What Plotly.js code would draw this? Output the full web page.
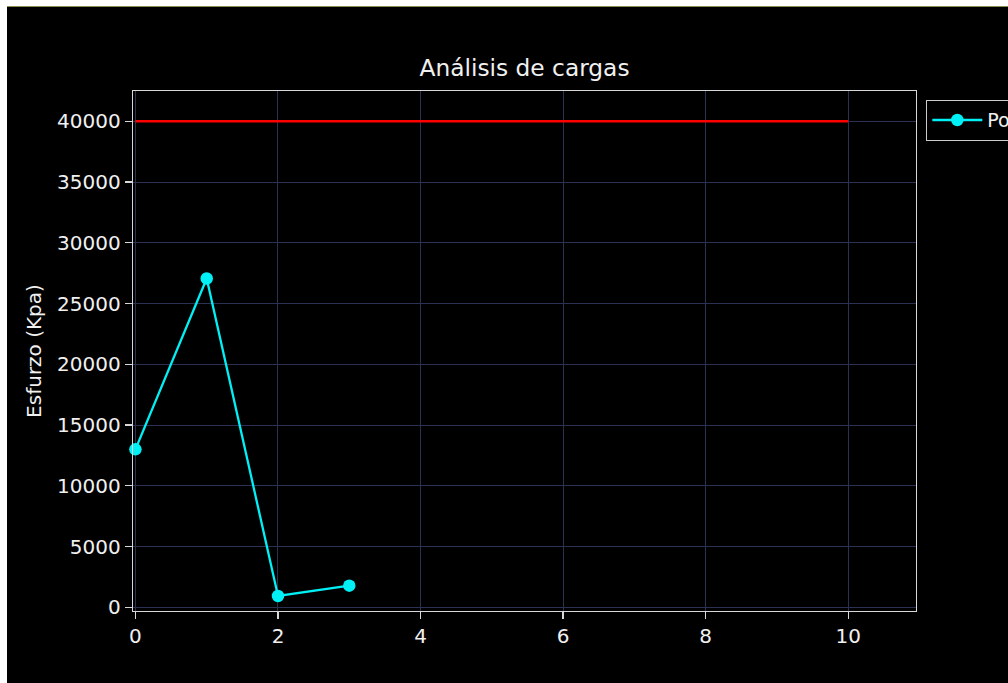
<!DOCTYPE html>
<html>
<head>
<meta charset="utf-8">
<script src="https://cdn.plot.ly/plotly-3.0.1.min.js"></script>
<style>
  html, body { margin: 0; padding: 0; background: #ffffff; width: 1008px; height: 683px; overflow: hidden; }
  #frame { position: absolute; left: 7px; top: 6px; width: 1001px; height: 677px; background: #000000; border-top: 1px solid #8d8c55; box-sizing: border-box; overflow: hidden; }
  #chart { position: absolute; left: 0; top: 0; width: 1001px; height: 676px; }
</style>
</head>
<body>
<div id="frame"><div id="chart"></div></div>
<script>
// Data
const seriesName = "Posición";
const xPoints = [0, 1, 2, 3];
const yPoints = [13000, 27060, 930, 1780];
const limitX = [0, 10];
const limitY = [40000, 40000];
const xTicks = [0, 2, 4, 6, 8, 10];
const yTicks = [0, 5000, 10000, 15000, 20000, 25000, 30000, 35000, 40000];
const chartTitle = "Análisis de cargas";
const yTitle = "Esfurzo (Kpa)";

const font = "DejaVu Sans, Verdana, sans-serif";
const textColor = "#f0f0f0";
const spineColor = "#d8d8d8";
const gridColor = "#2a3152";

const traces = [
  {
    x: limitX, y: limitY, type: "scatter", mode: "lines",
    line: { color: "#ff0000", width: 2.6 },
    showlegend: false, hoverinfo: "skip"
  },
  {
    x: xPoints, y: yPoints, type: "scatter", mode: "lines+markers",
    name: seriesName,
    line: { color: "#00f0f5", width: 2.3 },
    marker: { color: "#00f0f5", size: 12.5 },
    cliponaxis: false
  }
];

const axisCommon = {
  showline: true, linecolor: spineColor, linewidth: 1.3, mirror: true,
  ticks: "outside", ticklen: 7, tickwidth: 1.3, tickcolor: spineColor,
  showgrid: true, gridcolor: gridColor, gridwidth: 1,
  zeroline: false,
  tickfont: { family: font, size: 20, color: textColor },
  automargin: false
};

const layout = {
  width: 1001, height: 676,
  paper_bgcolor: "#000000", plot_bgcolor: "#000000",
  margin: { l: 126, r: 92, t: 84, b: 72, autoexpand: false },
  font: { family: font, color: textColor },
  title: {
    text: chartTitle,
    font: { family: font, size: 23.3, color: textColor },
    x: 0.5, xref: "paper", xanchor: "center",
    y: 0.91, yref: "container", yanchor: "middle"
  },
  xaxis: Object.assign({}, axisCommon, {
    range: [-0.034, 10.95],
    tickmode: "array", tickvals: xTicks, ticktext: xTicks.map(String)
  }),
  yaxis: Object.assign({}, axisCommon, {
    range: [-304, 42490],
    tickmode: "array", tickvals: yTicks, ticktext: yTicks.map(String),
    title: { text: yTitle, font: { family: font, size: 20, color: textColor }, standoff: 10 }
  }),
  showlegend: true,
  legend: {
    x: 1.0128, xanchor: "left", y: 0.983, yanchor: "top",
    bgcolor: "#000000", bordercolor: "#cccccc", borderwidth: 1.3,
    itemwidth: 50,
    font: { family: font, size: 19, color: textColor }
  }
};

Plotly.newPlot("chart", traces, layout, { staticPlot: true, displayModeBar: false });
</script>
</body>
</html>
